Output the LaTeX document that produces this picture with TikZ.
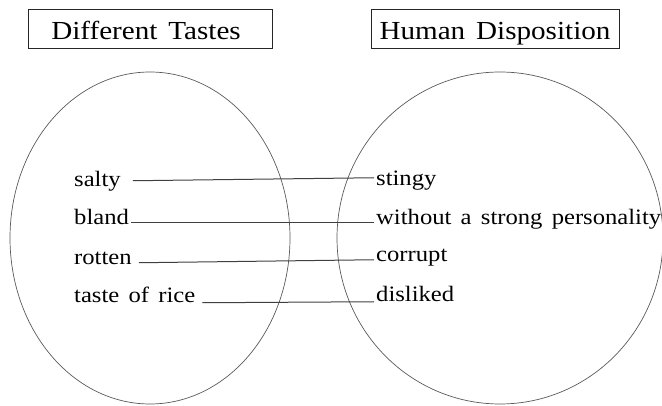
\documentclass[tikz,border=0pt]{standalone}
\usepackage{fontspec}
\setmainfont{Liberation Serif}[FakeStretch=1.12,WordSpace=1.5]
\usetikzlibrary{shapes.geometric}
\tikzset{
  titlebox/.style={draw=black!85, line width=0.8pt, minimum width=#1, minimum height=39pt,
    inner sep=0pt, text height=23pt, text depth=0pt, font=\fontsize{26}{30}\selectfont},
  setshape/.style={ellipse, draw=black!65, line width=0.7pt, inner sep=0pt},
  item/.style={font=\fontsize{22}{26}\selectfont, inner sep=2pt,
    text height=0.7em, text depth=0.25em},
  link/.style={draw=black!75, line width=1pt}
}
\begin{document}
\begin{tikzpicture}[x=1pt,y=-1pt]
  \useasboundingbox (0,0) rectangle (662,406);
  % headings
  \node[titlebox=244pt] (tastes) at (150,28.5) {\hspace*{-8pt}Different Tastes};
  \node[titlebox=248pt] (disp) at (495,28.5) {Human Disposition};
  % the two sets
  \node[setshape, minimum width=280pt, minimum height=332pt] (left) at (150,238) {};
  \node[setshape, minimum width=326pt, minimum height=332pt] (right) at (500,238) {};
  % tastes
  \node[item, anchor=base west] (salty) at (72,187) {salty};
  \node[item, anchor=base west] (bland) at (72,225) {bland};
  \node[item, anchor=base west] (rotten) at (72,265) {rotten};
  \node[item, anchor=base west] (rice) at (72,303) {taste of rice};
  % dispositions
  \node[item, anchor=base west] (stingy) at (374,186) {stingy};
  \node[item, anchor=base west] (weak) at (374,225) {without a strong personality};
  \node[item, anchor=base west] (corrupt) at (374,262) {corrupt};
  \node[item, anchor=base west] (disliked) at (374,302) {disliked};
  % links between a taste and a disposition
  \draw[link] ([xshift=10pt,yshift=4pt]salty.east) -- ([yshift=6pt]stingy.west);
  \draw[link] (bland.east) -- (weak.west);
  \draw[link] ([xshift=5pt]rotten.east) -- (corrupt.west);
  \draw[link] ([xshift=5pt,yshift=-2pt]rice.east) -- ([yshift=-2pt]disliked.west);
\end{tikzpicture}
\end{document}
